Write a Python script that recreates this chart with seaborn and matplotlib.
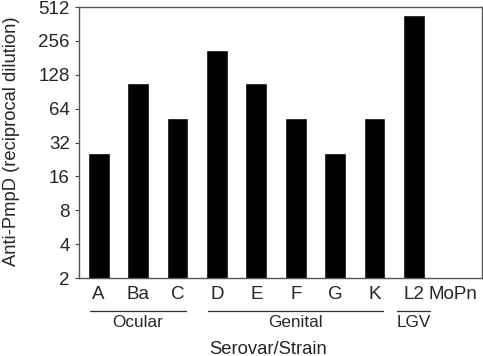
import matplotlib
matplotlib.use("Agg")
import matplotlib.pyplot as plt
import matplotlib.transforms as mtransforms
import numpy as np
import pandas as pd
import seaborn as sns

# Anti-PmpD titres per serovar/strain (MoPn: no detectable titre)
strains = ["A", "Ba", "C", "D", "E", "F", "G", "K", "L2", "MoPn"]
titers = [26, 108, 53, 215, 108, 53, 26, 53, 440, np.nan]
y_ticks = [2, 4, 8, 16, 32, 64, 128, 256, 512]

# disease groups under the x axis
group_names = ["Ocular", "Genital", "LGV"]
group_first = ["A", "D", "L2"]
group_last = ["C", "K", "L2"]

sns.set_style("ticks")
plt.rcParams["font.family"] = ["Liberation Sans", "DejaVu Sans"]

df = pd.DataFrame({"strain": strains, "titer": titers})

fig = plt.figure(figsize=(4.83, 3.56), dpi=100)
ax = fig.add_axes([0.1636, 0.219, 0.8344, 0.761])

sns.barplot(data=df, x="strain", y="titer", order=strains, color="black",
            saturation=1, width=0.55, ax=ax)

ax.set_yscale("log", base=2)
ax.set_ylim(2, 512)
ax.set_xlim(-0.5, 9.73)
ax.set_yticks(y_ticks)
ax.set_yticklabels([str(t) for t in y_ticks])
ax.yaxis.set_minor_locator(matplotlib.ticker.NullLocator())
ax.tick_params(axis="y", labelsize=13.5, length=3, width=0.8, color="#444444", pad=3.5)
ax.tick_params(axis="x", labelsize=13.5, length=0, pad=6)

for s in ax.spines.values():
    s.set_visible(True)
    s.set_color("#555555")
    s.set_linewidth(1.0)

ax.set_ylabel("Anti-PmpD (reciprocal dilution)", fontsize=13.2)
ax.yaxis.set_label_coords(-0.146, 0.505)
ax.set_xlabel("")

# group brackets and labels
trans = mtransforms.blended_transform_factory(ax.transData, ax.transAxes)
for name, a, b in zip(group_names, group_first, group_last):
    i0 = strains.index(a)
    i1 = strains.index(b)
    pad = 0.42 if i0 == i1 else 0.22
    ax.plot([i0 - pad, i1 + pad], [-0.121, -0.121], color="#333333", lw=0.9,
            transform=trans, clip_on=False)
    ax.text((i0 + i1) / 2, -0.164, name, transform=trans, ha="center",
            va="center", fontsize=12.3)

fig.text(268 / 483, 1 - 349 / 356, "Serovar/Strain", ha="center", va="center",
         fontsize=13.3)

fig.savefig("out.png", dpi=100)
